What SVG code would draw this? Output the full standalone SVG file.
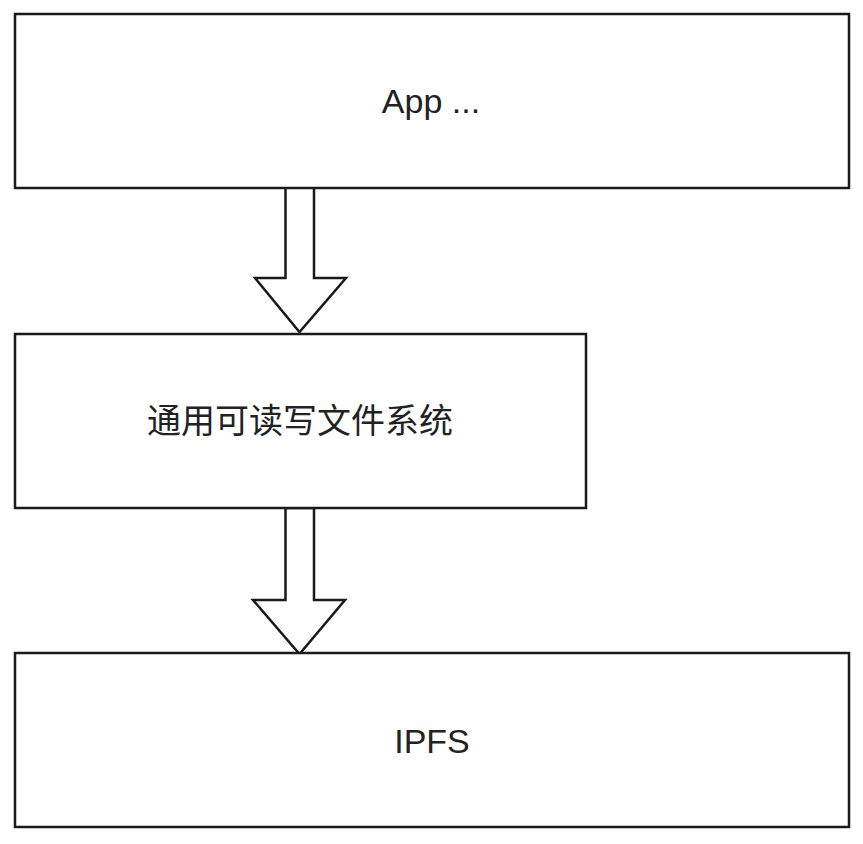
<svg xmlns="http://www.w3.org/2000/svg" width="863" height="844" viewBox="0 0 863 844">
<style>
.box{fill:#fff;stroke:#1a1a1a;stroke-width:2.5}
.arrow{fill:#fff;stroke:#1a1a1a;stroke-width:2.5;stroke-linejoin:miter}
.lbl{font-family:"Liberation Sans","Noto Sans CJK SC",sans-serif;font-size:34px;fill:#222;text-anchor:middle}
</style>
<rect width="863" height="844" fill="#fff"/>
<g id="connectors">
<path class="arrow" d="M285.5,187 L314,187 L314,278 L346,278 L299.5,332 L255,278 L285.5,278 Z"/>
<path class="arrow" d="M285.5,508 L314,508 L314,600 L345,600 L299.5,654 L253,600 L285.5,600 Z"/>
</g>
<g id="app">
<rect class="box" x="15" y="14" width="834" height="174"/>
<text class="lbl" x="431" y="113">App ...</text>
</g>
<g id="fs">
<rect class="box" x="15" y="334" width="571" height="174"/>
<text class="lbl" x="300" y="433">通用可读写文件系统</text>
</g>
<g id="ipfs">
<rect class="box" x="15" y="653" width="834" height="174"/>
<text class="lbl" x="432" y="753">IPFS</text>
</g>
</svg>
